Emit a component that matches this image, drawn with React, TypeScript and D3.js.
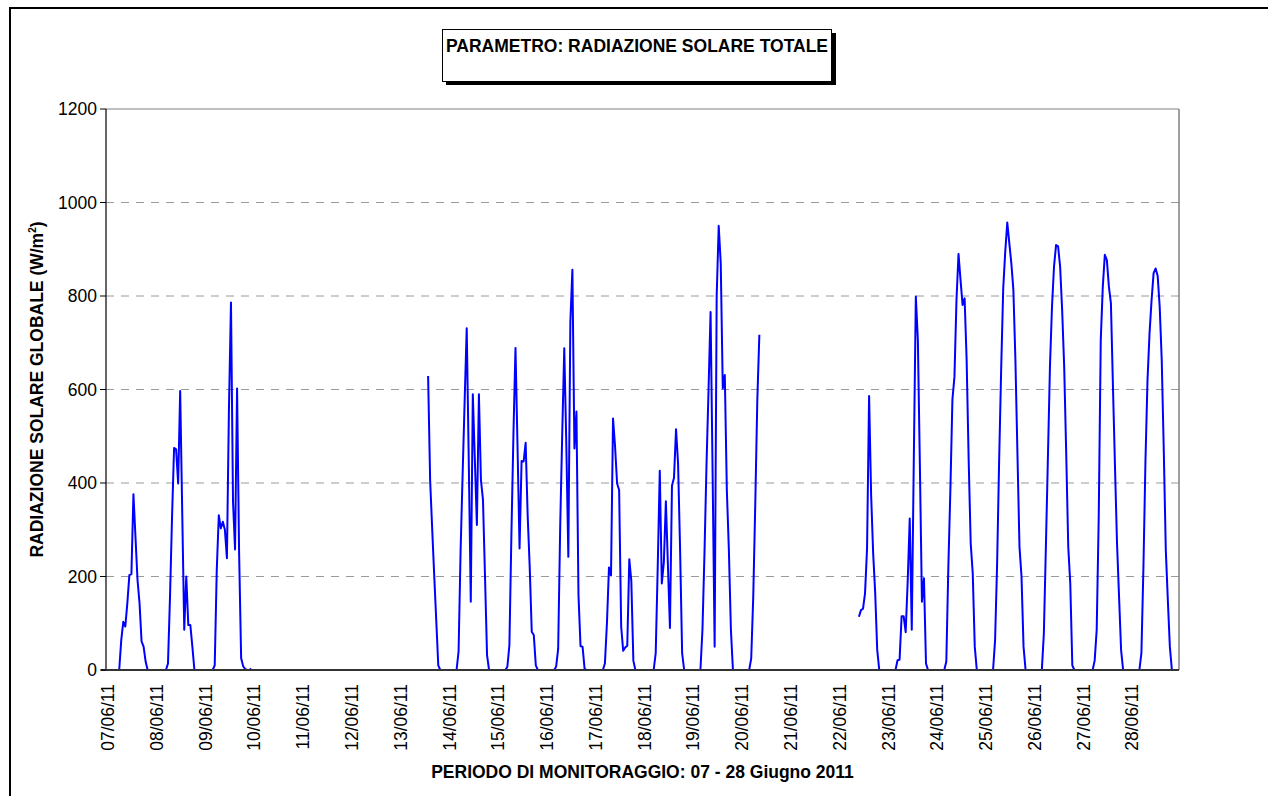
import React from "react";
import * as d3 from "d3";

const dayLabels = [
  "07/06/11", "08/06/11", "09/06/11", "10/06/11", "11/06/11", "12/06/11",
  "13/06/11", "14/06/11", "15/06/11", "16/06/11", "17/06/11", "18/06/11",
  "19/06/11", "20/06/11", "21/06/11", "22/06/11", "23/06/11", "24/06/11",
  "25/06/11", "26/06/11", "27/06/11", "28/06/11",
];

const yTicks = [0, 200, 400, 600, 800, 1000, 1200];

const _ = null;
// hourly values, W/m2 (hours 00..23)
const d07 = [0, 0, 0, 0, 0, 0, 0, 64, 103, 93, 143, 203, 205, 376, 285, 193, 143, 61, 50, 18, 0, 0, 0, 0];
const d08 = [0, 0, 0, 0, 0, 0, 14, 157, 328, 475, 472, 399, 597, 340, 86, 200, 96, 96, 50, 0, 0, 0, 0, 0];
const d09 = [0, 0, 0, 0, 0, 10, 214, 331, 303, 317, 300, 239, 560, 786, 360, 258, 602, 250, 25, 8, 2, 0, 0, 3];
const d10 = [_, _, _, _, _, _, _, _, _, _, _, _, _, _, _, _, _, _, _, _, _, _, _, _];
const d11 = [_, _, _, _, _, _, _, _, _, _, _, _, _, _, _, _, _, _, _, _, _, _, _, _];
const d12 = [_, _, _, _, _, _, _, _, _, _, _, _, _, _, _, _, _, _, _, _, _, _, _, _];
const d13 = [_, _, _, _, _, _, _, _, _, _, _, _, _, _, 629, 406, 303, 203, 107, 10, 0, 0, 0, 0];
const d14 = [0, 0, 0, 0, 0, 40, 257, 421, 578, 731, 449, 146, 590, 450, 310, 590, 406, 364, 200, 32, 0, 0, 0, 0];
const d15 = [0, 0, 0, 0, 0, 7, 53, 292, 506, 689, 478, 260, 447, 446, 486, 330, 220, 82, 75, 10, 0, 0, 0, 0];
const d16 = [0, 0, 0, 0, 0, 7, 45, 307, 506, 688, 485, 242, 745, 856, 474, 553, 160, 51, 50, 3, 0, 0, 0, 0];
const d17 = [0, 0, 0, 0, 0, 14, 100, 219, 202, 538, 478, 399, 385, 93, 41, 48, 52, 237, 190, 20, 0, 0, 0, 0];
const d18 = [0, 0, 0, 0, 0, 0, 36, 222, 426, 185, 230, 361, 225, 90, 394, 411, 515, 442, 257, 36, 0, 0, 0, 0];
const d19 = [0, 0, 0, 0, 0, 86, 250, 440, 600, 766, 420, 50, 800, 950, 870, 602, 631, 385, 257, 86, 0, 0, 0, 0];
const d20 = [0, 0, 0, 0, 0, 25, 157, 357, 578, 717, _, _, _, _, _, _, _, _, _, _, _, _, _, _];
const d21 = [_, _, _, _, _, _, _, _, _, _, _, _, _, _, _, _, _, _, _, _, _, _, _, _];
const d22 = [_, _, _, _, _, _, _, _, _, _, 114, 128, 131, 164, 260, 586, 375, 250, 165, 43, 0, 0, 0, 0];
const d23 = [0, 0, 0, 0, 0, 21, 22, 115, 115, 81, 190, 324, 86, 450, 799, 706, 435, 146, 196, 14, 0, 0, 0, 0];
const d24 = [0, 0, 0, 0, 0, 18, 221, 385, 578, 627, 791, 890, 834, 781, 795, 663, 449, 271, 207, 50, 0, 0, 0, 0];
const d25 = [0, 0, 0, 0, 0, 64, 228, 449, 645, 816, 895, 957, 913, 870, 813, 663, 463, 264, 200, 50, 0, 0, 0, 0];
const d26 = [0, 0, 0, 0, 0, 78, 264, 456, 649, 777, 863, 909, 906, 863, 770, 649, 463, 264, 185, 10, 0, 0, 0, 0];
const d27 = [0, 0, 0, 0, 0, 0, 20, 86, 328, 706, 820, 888, 877, 820, 784, 606, 435, 271, 157, 43, 0, 0, 0, 0];
const d28 = [0, 0, 0, 0, 0, 36, 221, 449, 620, 720, 791, 849, 859, 843, 777, 663, 471, 257, 150, 50, 0, 0, 0, 0];

const days = [d07, d08, d09, d10, d11, d12, d13, d14, d15, d16, d17, d18, d19, d20, d21, d22, d23, d24, d25, d26, d27, d28];

const FONT = "'Liberation Sans', Arial, sans-serif";

export default function App() {
  const W = 1268;
  const H = 796;
  const left = 106;
  const right = 1179;
  const top = 109;
  const bottom = 670;
  const fs = 17.5;

  const values: (number | null)[] = days.flat();
  const x = d3
    .scaleBand<number>()
    .domain(d3.range(values.length))
    .range([left, right]);
  const xc = (i: number) => (x(i) as number) + x.bandwidth() / 2;
  const y = d3.scaleLinear().domain([0, 1200]).range([bottom, top]);

  const line = d3
    .line<number | null>()
    .defined((v) => v !== null)
    .x((_v, i) => xc(i))
    .y((v) => y(v as number));

  return (
    <svg
      width={W}
      height={H}
      style={{ position: "absolute", left: 0, top: 0, background: "#fff" }}
      fontFamily={FONT}
    >
      <rect x={0} y={0} width={W} height={H} fill="#fff" />
      {/* outer chart border */}
      <rect x={10} y={8} width={W + 20} height={H + 20} fill="none" stroke="#000" strokeWidth={2} />

      {/* title box */}
      <rect x={446} y={33} width={390} height={52} fill="#000" />
      <rect x={442.5} y={29.5} width={389} height={52} fill="#fff" stroke="#000" strokeWidth={1} />
      <text x={637} y={52} textAnchor="middle" fontSize={fs} fontWeight="bold">
        PARAMETRO: RADIAZIONE SOLARE TOTALE
      </text>

      {/* gridlines */}
      {yTicks
        .filter((t) => t > 0 && t < 1200)
        .map((t) => (
          <line
            key={"g" + t}
            x1={left}
            x2={right}
            y1={y(t)}
            y2={y(t)}
            stroke="#9a9a9a"
            strokeWidth={1}
            strokeDasharray="8,7"
          />
        ))}
      {/* plot border top/right */}
      <line x1={left} x2={right} y1={top} y2={top} stroke="#808080" strokeWidth={1} />
      <line x1={right} x2={right} y1={top} y2={bottom} stroke="#808080" strokeWidth={1.5} />

      {/* data line */}
      <path d={line(values) || ""} fill="none" stroke="#0000ff" strokeWidth={2} strokeLinejoin="round" />

      {/* axes */}
      <line x1={left} x2={left} y1={top} y2={bottom} stroke="#000" strokeWidth={1.2} />
      <line x1={left - 5} x2={right} y1={bottom} y2={bottom} stroke="#333" strokeWidth={2} />
      {yTicks.map((t) => (
        <g key={"t" + t}>
          <line x1={left - 6} x2={left} y1={y(t)} y2={y(t)} stroke="#000" strokeWidth={1} />
          <text x={left - 9} y={y(t)} dy="0.35em" textAnchor="end" fontSize={fs}>
            {t}
          </text>
        </g>
      ))}
      {dayLabels.map((d, k) => {
        const cx = xc(k * 24) + 1;
        return (
          <text
            key={d}
            transform={`translate(${cx},${684}) rotate(-90)`}
            dy="0.35em"
            textAnchor="end"
            fontSize={fs}
          >
            {d}
          </text>
        );
      })}

      {/* axis titles */}
      <text
        transform={`translate(${43},${(top + bottom) / 2}) rotate(-90)`}
        textAnchor="middle"
        fontSize={fs}
        fontWeight="bold"
      >
        RADIAZIONE SOLARE GLOBALE (W/m
        <tspan fontSize={10} dy={-7}>2</tspan>
        <tspan dy={7}>)</tspan>
      </text>
      <text x={(left + right) / 2} y={778} textAnchor="middle" fontSize={fs} fontWeight="bold">
        PERIODO DI MONITORAGGIO: 07 - 28 Giugno 2011
      </text>
    </svg>
  );
}
